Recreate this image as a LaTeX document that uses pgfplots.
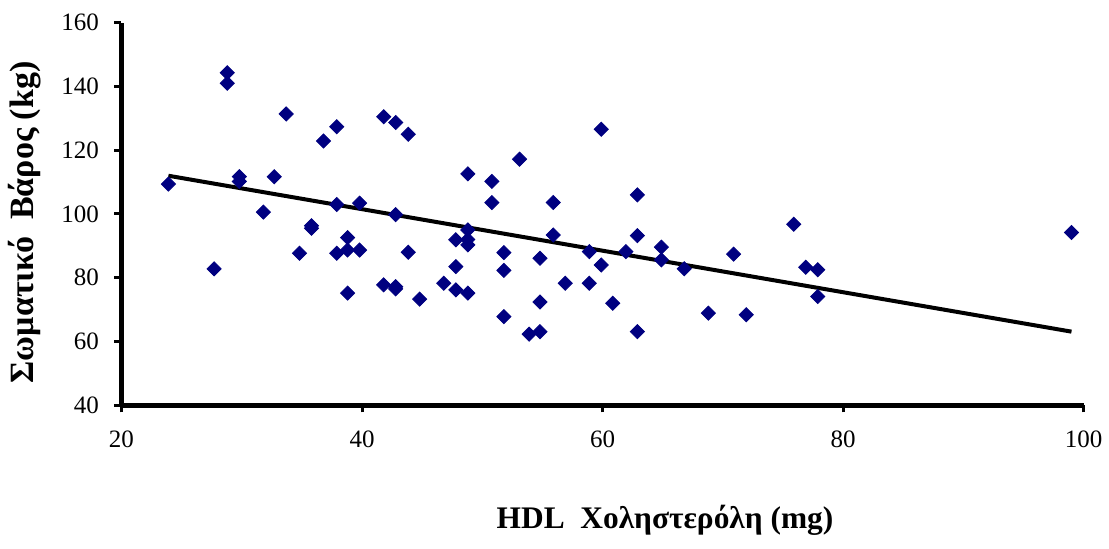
\documentclass[border=0pt]{standalone}
\usepackage{fontspec}
\setmainfont{Liberation Serif}
\usepackage{pgfplots}
\pgfplotsset{compat=1.18}
\definecolor{navy}{HTML}{000080}
\begin{document}
\begin{tikzpicture}
\begin{axis}[name=ax, scale only axis, width=481bp, height=191.3bp,
 xmin=20, xmax=100, ymin=40, ymax=160,
 xtick={20,40,...,100}, ytick={40,60,...,160},
 axis x line*=bottom, axis y line*=left,
 axis line style={line width=2.5bp,-},
 tick align=outside, major tick length=3.5bp,
 tick style={line width=1.5bp,black},
 /pgf/number format/assume math mode=true,
 ticklabel style={font=\fontsize{12.5bp}{14bp}\selectfont, inner sep=0pt},
 yticklabel style={xshift=-7.6bp},
 xticklabel style={yshift=-9.3bp},
 xlabel={HDL\ \ Χοληστερόλη (mg)},
 ylabel={Σωματικό\ \ Βάρος (kg)},
 xlabel style={font=\fontsize{15.7bp}{18bp}\selectfont\bfseries,
   at={(axis description cs:0.565,-0.323)},anchor=base},
 ylabel style={font=\fontsize{17bp}{20bp}\selectfont\bfseries,
   at={(axis description cs:-0.091,0.478)},anchor=base},
 clip=false]
\addplot[only marks, mark=square*, mark size=2.5bp, color=navy,
  mark options={rotate=45, fill=navy, draw=navy}] coordinates {
(23.9,109.4) (27.7,82.8) (28.8,144.3) (28.8,141) (29.8,111.7) (29.8,110.2)
(31.8,100.6) (32.7,111.7) (33.7,131.4) (34.8,87.7) (35.8,96.3) (35.8,95.5)
(36.8,122.9) (37.9,127.4) (37.9,103) (37.9,87.7) (38.8,92.6) (38.8,88.7)
(38.8,75.2) (39.8,88.7) (39.8,103.4) (41.8,130.5) (41.8,77.8) (42.8,128.7)
(42.8,99.8) (42.8,77.2) (42.8,76.5) (43.85,125) (43.85,88) (44.8,73.3)
(46.8,78.3) (47.8,83.5) (47.8,76.2) (47.8,91.9) (48.8,95) (48.8,92)
(48.8,90.3) (48.8,75.2) (48.8,112.6) (50.8,110.2) (50.8,103.6) (51.8,87.9)
(51.8,82.3) (51.8,67.8) (53.1,117.2) (53.9,62.3) (54.8,86.1) (54.8,72.4)
(54.8,63.1) (55.9,103.6) (55.9,93.4) (56.9,78.3) (58.9,88.2) (58.9,78.3)
(59.9,126.6) (59.9,84) (60.85,72) (61.95,88.2) (62.9,106) (62.9,93.2)
(62.9,63.1) (64.9,89.6) (64.9,85.6) (66.8,82.8) (68.8,68.9) (70.9,87.4)
(71.95,68.4) (75.9,96.8) (76.9,83.3) (77.9,82.5) (77.9,74.1) (99,94.2)
};
\addplot[black, line width=2bp, no marks] coordinates {(23.9,112) (99,63.1)};
\end{axis}
\path[use as bounding box] ([xshift=-60.75bp,yshift=-71.85bp]ax.south west) rectangle ([xshift=12.75bp,yshift=11.35bp]ax.north east);
\end{tikzpicture}
\end{document}
